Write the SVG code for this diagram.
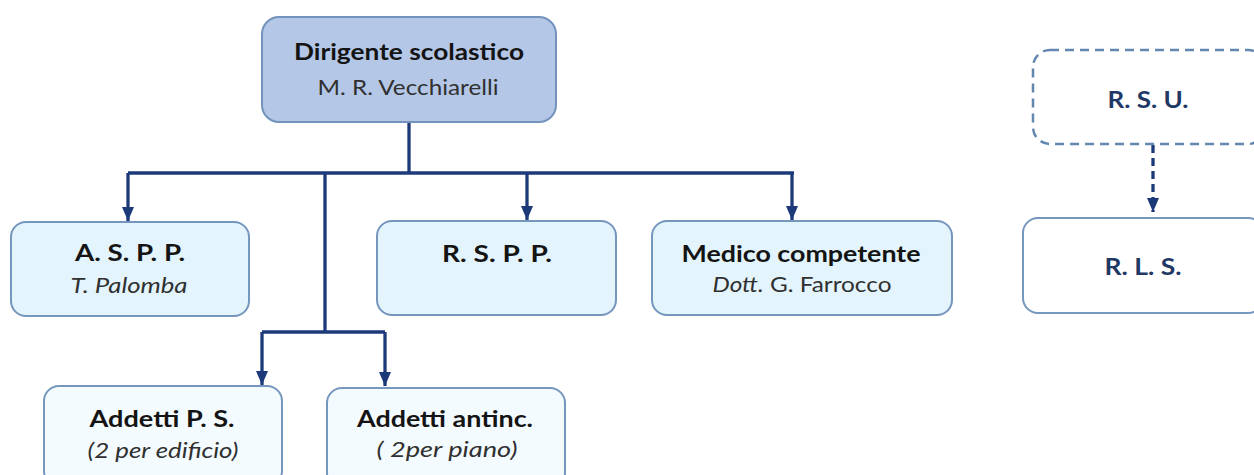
<svg xmlns="http://www.w3.org/2000/svg" width="1254" height="475" viewBox="0 0 1254 475">
  <style>
    .box { fill: #e3f4fc; stroke: #7596bd; stroke-width: 2; }
    .boxw { fill: #f4fbfe; stroke: #7596bd; stroke-width: 2; }
    .top { fill: #b4c7e7; stroke: #7393bd; stroke-width: 2; }
    .dash { fill: #ffffff; stroke: #6487b0; stroke-width: 2.5; stroke-dasharray: 9 6; }
    .t { font-family: Lato, "Open Sans", "Liberation Sans", sans-serif; font-weight: bold; font-size: 23.5px; fill: #141414; text-anchor: middle; }
    .s { font-family: Lato, "Open Sans", "Liberation Sans", sans-serif; font-size: 21px; fill: #303030; text-anchor: middle; }
    .i { font-style: italic; }
    .n { font-family: Lato, "Open Sans", "Liberation Sans", sans-serif; font-weight: bold; font-size: 23.5px; fill: #1f3864; text-anchor: middle; }
    .c { fill: none; stroke: #1c3a7a; stroke-width: 3.3; }
    .cd { fill: none; stroke: #1c3a7a; stroke-width: 3.3; stroke-dasharray: 8 5; }
  </style>
  <defs>
    <marker id="arr" viewBox="0 0 14 12" refX="14" refY="6" markerWidth="14" markerHeight="12" markerUnits="userSpaceOnUse" orient="auto">
      <path d="M0,0 L14,6 L0,12 z" fill="#1c3a7a"/>
    </marker>
  </defs>

  <g id="connectors">
    <path class="c" d="M409,122 V173"/>
    <path class="c" d="M128,173 H794"/>
    <path class="c" d="M128,173 V221" marker-end="url(#arr)"/>
    <path class="c" d="M527,173 V220" marker-end="url(#arr)"/>
    <path class="c" d="M792,173 V220" marker-end="url(#arr)"/>
    <path class="c" d="M325,173 V332"/>
    <path class="c" d="M262,332 H385"/>
    <path class="c" d="M262,332 V385" marker-end="url(#arr)"/>
    <path class="c" d="M385,332 V386" marker-end="url(#arr)"/>
    <path class="cd" d="M1153,145 V212" marker-end="url(#arr)"/>
  </g>

  <g id="dirigente">
    <rect class="top" x="262" y="17" width="294" height="105" rx="17"/>
    <text class="t" x="409" y="60" textLength="230" lengthAdjust="spacingAndGlyphs">Dirigente scolastico</text>
    <text class="s" x="408" y="95" textLength="181" lengthAdjust="spacingAndGlyphs">M. R. Vecchiarelli</text>
  </g>

  <g id="aspp">
    <rect class="box" x="11" y="222" width="238" height="94" rx="15"/>
    <text class="t" x="130" y="261" textLength="110" lengthAdjust="spacingAndGlyphs">A. S. P. P.</text>
    <text class="s i" x="129" y="293" textLength="117" lengthAdjust="spacingAndGlyphs">T. Palomba</text>
  </g>

  <g id="rspp">
    <rect class="box" x="377" y="221" width="239" height="94" rx="15"/>
    <text class="t" x="497" y="262" textLength="110" lengthAdjust="spacingAndGlyphs">R. S. P. P.</text>
  </g>

  <g id="medico">
    <rect class="box" x="652" y="221" width="300" height="94" rx="15"/>
    <text class="t" x="801" y="262" textLength="239" lengthAdjust="spacingAndGlyphs">Medico competente</text>
    <text class="s" x="802" y="292" textLength="179" lengthAdjust="spacingAndGlyphs"><tspan font-style="italic">Dott.</tspan> G. Farrocco</text>
  </g>

  <g id="addetti-ps">
    <rect class="boxw" x="44" y="386" width="238" height="100" rx="15"/>
    <text class="t" x="162" y="427" textLength="145" lengthAdjust="spacingAndGlyphs">Addetti P. S.</text>
    <text class="s i" x="163" y="458" textLength="151" lengthAdjust="spacingAndGlyphs">(2 per edificio)</text>
  </g>

  <g id="addetti-antinc">
    <rect class="boxw" x="327" y="388" width="238" height="100" rx="15"/>
    <text class="t" x="445" y="427" textLength="176" lengthAdjust="spacingAndGlyphs">Addetti antinc.</text>
    <text class="s i" x="447" y="457" textLength="141" lengthAdjust="spacingAndGlyphs">( 2per piano)</text>
  </g>

  <g id="rsu">
    <rect class="dash" x="1033" y="50" width="232" height="94" rx="17"/>
    <text class="n" x="1148" y="108" textLength="81" lengthAdjust="spacingAndGlyphs">R. S. U.</text>
  </g>

  <g id="rls">
    <rect class="boxw" x="1023" y="218" width="240" height="95" rx="15" style="fill:#ffffff"/>
    <text class="n" x="1143" y="275" textLength="77" lengthAdjust="spacingAndGlyphs">R. L. S.</text>
  </g>
</svg>
